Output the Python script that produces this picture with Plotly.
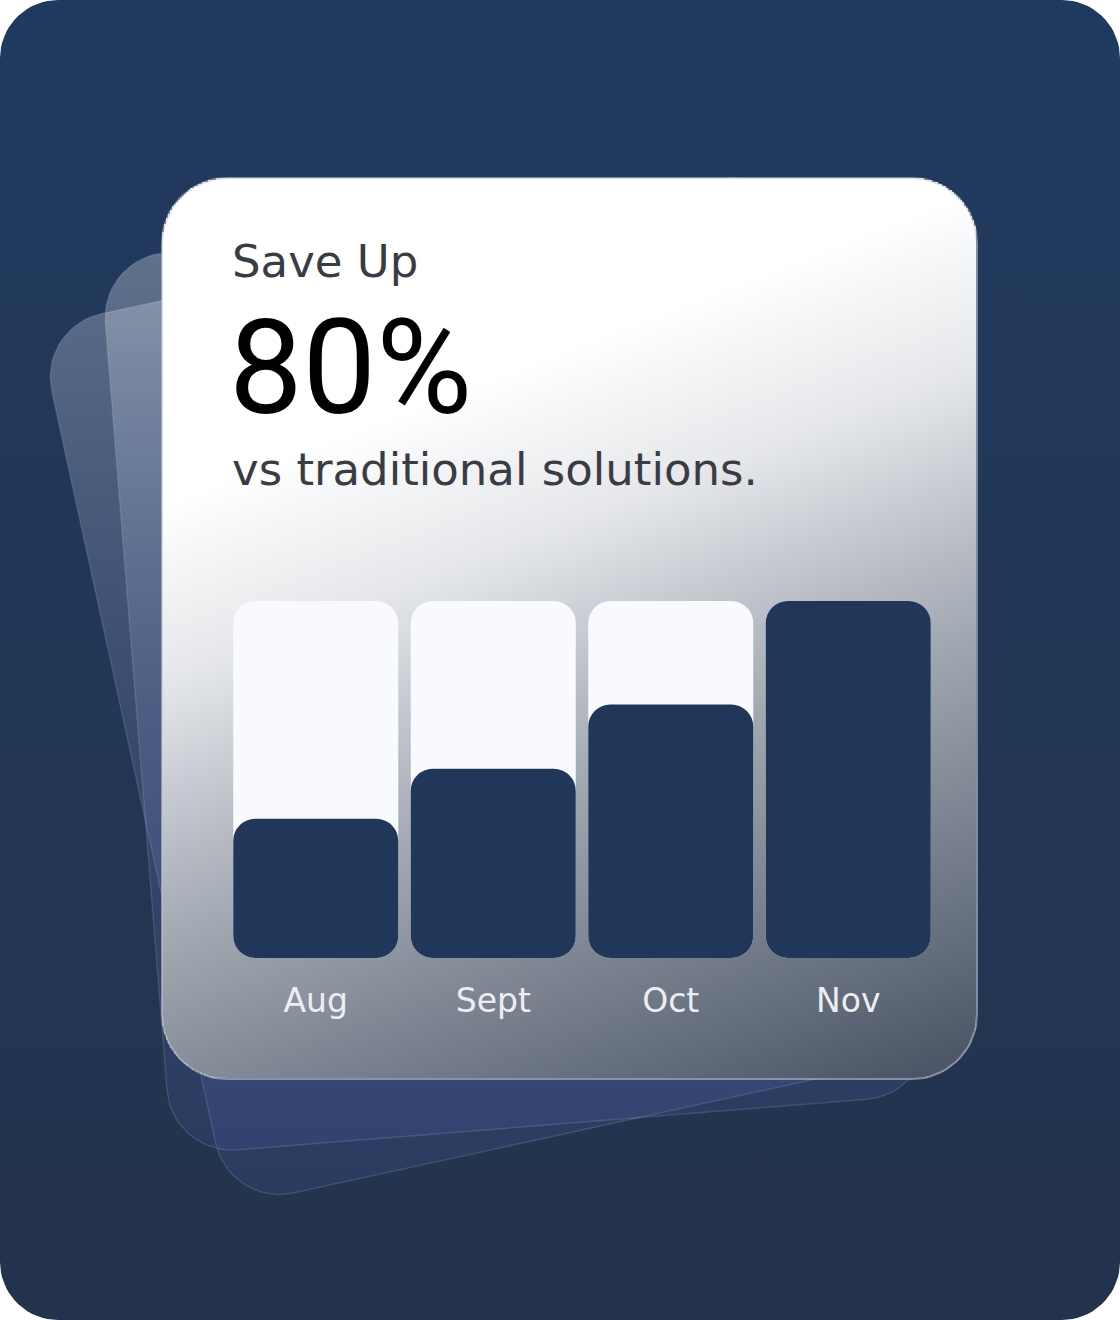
import numpy as np
import plotly.graph_objects as go

# chart data
months = ["Aug", "Sept", "Oct", "Nov"]
savings = [39, 53, 71, 100]   # % of the Nov bar height
track = [100, 100, 100, 100]  # light background column

kicker = "Save Up"
headline = "80%"
subline = "vs traditional solutions."

W, H = 1120, 1320
BG_TOP, BG_BOTTOM = "#203a5f", "#24334d"
TRACK_COLOR = "#f8fafe"
BAR_COLOR = "#213759"
TEXT_GREY = "#3a3c44"


def rounded_rect(cx, cy, w, h, r, ang=0.0, n=18):
    """outline of a rounded rectangle in pixel coords (y down), rotated ang degrees ccw on screen"""
    pts = []
    hw, hh = w / 2 - r, h / 2 - r
    corners = [(hw, -hh, -90, 0), (hw, hh, 0, 90), (-hw, hh, 90, 180), (-hw, -hh, 180, 270)]
    for ox, oy, a0, a1 in corners:
        t = np.radians(np.linspace(a0, a1, n))
        for lx, ly in zip(ox + r * np.cos(t), oy + r * np.sin(t)):
            pts.append((lx, ly))
    pts.append(pts[0])
    a = np.radians(ang)
    xs = [cx + lx * np.cos(a) + ly * np.sin(a) for lx, ly in pts]
    ys = [cy - lx * np.sin(a) + ly * np.cos(a) for lx, ly in pts]
    return xs, ys


fig = go.Figure()

# dark rounded page
bx, by = rounded_rect(W / 2, H / 2, W, H, 58)
fig.add_trace(go.Scatter(
    x=bx, y=by, mode="lines", fill="toself", line=dict(width=0),
    fillgradient=dict(type="vertical", start=0, stop=H,
                      colorscale=[[0, BG_TOP], [1, BG_BOTTOM]]),
    hoverinfo="skip", showlegend=False,
))

# two tilted glass cards behind
for cx, cy, ang in [(506, 686, 12.3), (516, 676, 4.6)]:
    px_, py_ = rounded_rect(cx, cy, 762, 900, 65, ang)
    fig.add_trace(go.Scatter(
        x=px_, y=py_, mode="lines", fill="toself",
        line=dict(width=1.5, color="rgba(255,255,255,0.12)"),
        fillgradient=dict(type="vertical", start=min(py_), stop=max(py_),
                          colorscale=[[0, "rgba(255,255,255,0.31)"],
                                      [0.55, "rgba(160,175,225,0.17)"],
                                      [1, "rgba(85,100,190,0.15)"]]),
        hoverinfo="skip", showlegend=False,
    ))

# main card with diagonal gradient (heatmap masked to a rounded rect), on an overlay subplot
c_x0, c_x1, c_y0, c_y1, c_r = 162, 977, 178, 1079, 65
xs = np.arange(c_x0 + 1, c_x1, 2)
ys = np.arange(c_y0 + 1, c_y1, 2)
X, Y = np.meshgrid(xs, ys)
shade = np.clip(0.0773 * (X - 162) + 0.2 * (Y - 560) + 11, 0, 178)
ccx, ccy = (c_x0 + c_x1) / 2, (c_y0 + c_y1) / 2
ddx = np.maximum(np.abs(X - ccx) - ((c_x1 - c_x0) / 2 - c_r), 0)
ddy = np.maximum(np.abs(Y - ccy) - ((c_y1 - c_y0) / 2 - c_r), 0)
inside = ddx ** 2 + ddy ** 2 <= c_r ** 2
zc = [[round(float(v), 1) if m else None for v, m in zip(row, mrow)]
      for row, mrow in zip(shade, inside)]
stops = [(0, "#ffffff"), (11, "#f6f7f8"), (35, "#e5e7ea"), (74, "#b2b7c0"),
         (94, "#9ba2ac"), (122, "#7e8693"), (150, "#636c7b"), (168, "#505a6b"),
         (178, "#465062")]
fig.add_trace(go.Heatmap(
    z=zc, x0=float(xs[0]), dx=2, y0=float(ys[0]), dy=2,
    colorscale=[[s / 178, c] for s, c in stops], zmin=0, zmax=178,
    showscale=False, hoverinfo="skip", zsmooth=False,
    xaxis="x2", yaxis="y2",
))
ox, oy = rounded_rect(ccx, ccy, c_x1 - c_x0, c_y1 - c_y0, c_r)
fig.add_trace(go.Scatter(
    x=ox, y=oy, mode="lines", line=dict(width=2, color="rgba(190,196,208,0.6)"),
    xaxis="x2", yaxis="y2", hoverinfo="skip", showlegend=False,
))

# bars: with an explicit base plotly rounds both ends
fig.add_trace(go.Bar(
    x=months, y=track, base=[0] * len(track),
    marker=dict(color=TRACK_COLOR, cornerradius=22, line=dict(width=0)),
    xaxis="x3", yaxis="y3", hoverinfo="skip", showlegend=False,
))
fig.add_trace(go.Bar(
    x=months, y=savings, base=[0] * len(savings),
    marker=dict(color=BAR_COLOR, cornerradius=22, line=dict(width=0)),
    xaxis="x3", yaxis="y3", hoverinfo="skip", showlegend=False,
))

annotations = [
    dict(text=kicker, x=231, y=261, xanchor="left", yanchor="middle",
         font=dict(family="DejaVu Sans", size=45, color=TEXT_GREY)),
    dict(text=headline, x=228, y=368, xanchor="left", yanchor="middle",
         font=dict(family="Roboto", size=131, color="#000000")),
    dict(text=subline, x=231, y=469, xanchor="left", yanchor="middle",
         font=dict(family="DejaVu Sans", size=45, color=TEXT_GREY)),
]
for a in annotations:
    a.update(xref="x", yref="y", showarrow=False, borderpad=0)

px_axis = dict(domain=[0, 1], range=[0, W], visible=False, fixedrange=True)
py_axis = dict(domain=[0, 1], range=[H, 0], visible=False, fixedrange=True)

fig.update_layout(
    width=W, height=H,
    margin=dict(l=0, r=0, t=0, b=0),
    paper_bgcolor="white",
    plot_bgcolor="rgba(0,0,0,0)",
    showlegend=False,
    barmode="overlay",
    bargap=0.0704,
    xaxis=px_axis,
    yaxis=py_axis,
    xaxis2=dict(px_axis, overlaying="x", anchor="y2"),
    yaxis2=dict(py_axis, overlaying="y", anchor="x2"),
    xaxis3=dict(domain=[227 / W, 937 / W], anchor="y3", showgrid=False,
                zeroline=False, showline=False, ticks="", ticklabelstandoff=20,
                tickfont=dict(family="DejaVu Sans", size=33, color="#eceef2"),
                fixedrange=True),
    yaxis3=dict(domain=[(H - 958) / H, (H - 601) / H], anchor="x3", range=[0, 100],
                visible=False, fixedrange=True),
    annotations=annotations,
    dragmode=False,
)

fig.write_html("out.html", config={"displayModeBar": False},
               post_script="document.body.style.margin='0px';")
